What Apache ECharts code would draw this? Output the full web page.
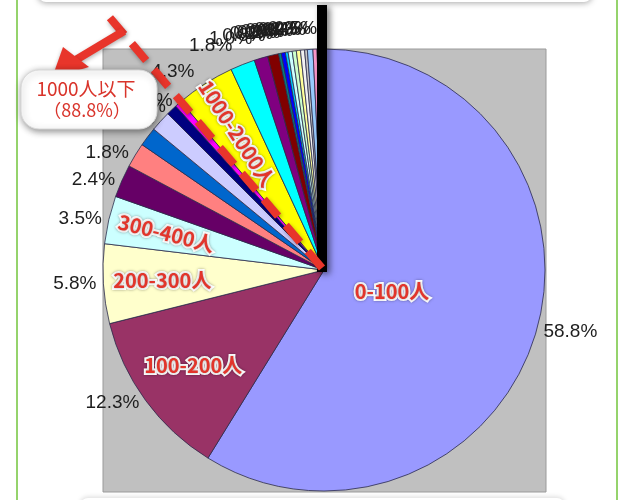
<!DOCTYPE html>
<html>
<head>
<meta charset="utf-8">
<script src="https://cdn.jsdelivr.net/npm/echarts@6/dist/echarts.min.js"></script>
<style>
html,body{margin:0;padding:0;background:#fff;}
#c{width:629px;height:500px;}
</style>
</head>
<body>
<div id="c"></div>
<script>
// ---- data ----
const categories = ['0-100人','100-200人','200-300人','300-400人','400-500人','500-600人','600-700人','700-800人','800-900人','900-1000人','1000-2000人','2000-3000人','3000-4000人','4000-5000人','5000-6000人','6000-7000人','7000-8000人','8000-9000人','9000-10000人','10000-20000人','20000-30000人','30000-40000人','40000-50000人','50000-100000人','100000人以上'];
const shares = [58.8,12.3,5.8,3.5,2.4,1.8,1.4,1.5,0.8,0.5,4.3,1.8,1.0,0.8,0.2,0.3,0.2,0.3,0.3,0.3,0.3,0.2,0.4,0.3,0.5];
const sliceColors = ['#9999FF','#993366','#FFFFCC','#CCFFFF','#660066','#FF8080','#0066CC','#CCCCFF','#000080','#FF00FF','#FFFF00','#00FFFF','#800080','#800000','#008080','#0000FF','#00CCFF','#CCFFFF','#CCFFCC','#FFFF99','#F2F2F2','#C8C8C8','#99CCFF','#FF99CC','#CC99FF'];
const innerLabelIdx = [1,2,3,10];   // labels drawn in the outer ring
const centerLabelIdx = [0];         // label drawn near the centre
const raisedLabelIdx = [6];         // outside label tucked up under the callout
const calloutCount = 10;            // categories up to 1000人
const calloutTitle = '1000人以下';

// ---- layout ----
const CX = 324, CY = 270, R = 221;
const chart = echarts.init(document.getElementById('c'), null, {renderer:'canvas'});

const total = shares.reduce((a,b)=>a+b,0);
const under1000 = shares.slice(0, calloutCount).reduce((a,b)=>a+b,0);
const pct = (under1000/total*100).toFixed(1);
const boundaryAngle = under1000/total*2*Math.PI; // clockwise from top
const dashLen = 336;
const dashEnd = [CX + dashLen*Math.sin(boundaryAngle), CY - dashLen*Math.cos(boundaryAngle)];

const redLabel = {
  color:'#E2352B', fontWeight:'bold', fontSize:20,
  fontFamily:'"Noto Sans CJK JP", sans-serif',
  textBorderColor:'#fff', textBorderWidth:4,
  textShadowColor:'rgba(0,0,0,0.35)', textShadowBlur:3
};

const mainData = categories.map((n,i)=>({
  name:n, value:shares[i],
  itemStyle:{color:sliceColors[i]},
  labelLine:{show:false, length: i>=11 ? 20 : (i===10 ? 14 : 4), length2:0}
}));

const ringData = categories.map((n,i)=>{
  const d = {name:n, value:shares[i]};
  if (i===3) d.label = {rotate:-14};
  if (i===10) d.label = {rotate:-57};
  return d;
});
const centerData = categories.map((n,i)=>({name:n, value:shares[i]}));

chart.setOption({
  animation:false,
  backgroundColor:'#ffffff',
  graphic:[
    {type:'rect', z:0, shape:{x:38,y:-60,width:554,height:62,r:8},
     style:{fill:'#fff', shadowBlur:6, shadowColor:'rgba(0,0,0,0.35)', shadowOffsetY:1}},
    {type:'rect', z:0, shape:{x:80,y:498,width:485,height:40,r:8},
     style:{fill:'#fff', shadowBlur:5, shadowColor:'rgba(0,0,0,0.15)', shadowOffsetY:-1}},
    {type:'line', z:1, shape:{x1:17,y1:0,x2:17,y2:500}, style:{stroke:'#95D36C', lineWidth:2}},
    {type:'line', z:1, shape:{x1:617,y1:0,x2:617,y2:500}, style:{stroke:'#95D36C', lineWidth:2}},
    {type:'rect', z:1, shape:{x:103,y:49,width:443,height:443},
     style:{fill:'#C0C0C0', stroke:'#9a9a9a', lineWidth:1}},
    {type:'rect', z:100, shape:{x:317,y:5,width:10,height:267},
     style:{fill:'#000', shadowBlur:6, shadowColor:'rgba(0,0,0,0.5)', shadowOffsetX:3, shadowOffsetY:2}},
    {type:'line', z:101, shape:{x1:CX-2,y1:CY-2,x2:dashEnd[0],y2:dashEnd[1]},
     style:{stroke:'#E8352B', lineWidth:8, lineDash:[22,12], shadowBlur:4, shadowColor:'rgba(0,0,0,0.35)', shadowOffsetX:1, shadowOffsetY:2}},
    {type:'line', z:101, shape:{x1:124,y1:31,x2:74,y2:61},
     style:{stroke:'#E8352B', lineWidth:8, shadowBlur:4, shadowColor:'rgba(0,0,0,0.3)', shadowOffsetY:2}},
    {type:'polygon', z:101, shape:{points:[[52,78],[63,47],[89,67]]},
     style:{fill:'#E8352B', shadowBlur:4, shadowColor:'rgba(0,0,0,0.3)', shadowOffsetY:2}},
    {type:'rect', z:102, shape:{x:21,y:70,width:136,height:59,r:18},
     style:{fill:'#fff', stroke:'#d8d8d8', lineWidth:1, shadowBlur:7, shadowColor:'rgba(0,0,0,0.45)', shadowOffsetX:1, shadowOffsetY:2}},
    {type:'text', z:103, style:{x:86,y:89, text:calloutTitle, fill:'#D9342B', fontSize:19,
     fontFamily:'"Noto Sans CJK JP", sans-serif', align:'center', verticalAlign:'middle'}},
    {type:'text', z:103, style:{x:87,y:110, text:'（'+pct+'%）', fill:'#D9342B', fontSize:18,
     fontFamily:'"Noto Sans CJK JP", sans-serif', align:'center', verticalAlign:'middle'}}
  ],
  series:[
    {
      type:'pie', z:2, center:[CX,CY], radius:[0,R], startAngle:90, clockwise:true,
      avoidLabelOverlap:false, silent:true,
      labelLayout:{hideOverlap:false, moveOverlap:null},
      itemStyle:{borderColor:'#2b2b4a', borderWidth:0.8},
      label:{show:true, position:'outside', color:'#1e1e1e', fontSize:19, lineHeight:22,
        fontFamily:'"Liberation Sans", Arial, sans-serif', distanceToLabelLine:3,
        formatter:p=>p.value.toFixed(1)+'%' + (raisedLabelIdx.includes(p.dataIndex) ? '\n\n' : '')},
      labelLine:{show:false},
      emphasis:{disabled:true},
      data:mainData
    },
    {
      type:'pie', z:3, center:[CX,CY], radius:[97,R], startAngle:90, clockwise:true,
      avoidLabelOverlap:false, silent:true,
      itemStyle:{color:'rgba(0,0,0,0)', borderWidth:0},
      label:Object.assign({show:true, position:'inside',
        formatter:p=>innerLabelIdx.includes(p.dataIndex)?p.name:''}, redLabel),
      labelLine:{show:false},
      emphasis:{disabled:true},
      data:ringData
    },
    {
      type:'pie', z:3, center:[CX,CY], radius:[0,150], startAngle:90, clockwise:true,
      avoidLabelOverlap:false, silent:true,
      itemStyle:{color:'rgba(0,0,0,0)', borderWidth:0},
      label:Object.assign({show:true, position:'inside', padding:[30,14,0,0],
        formatter:p=>centerLabelIdx.includes(p.dataIndex)?p.name:''}, redLabel),
      labelLine:{show:false},
      emphasis:{disabled:true},
      data:centerData
    }
  ]
});
</script>
</body>
</html>
